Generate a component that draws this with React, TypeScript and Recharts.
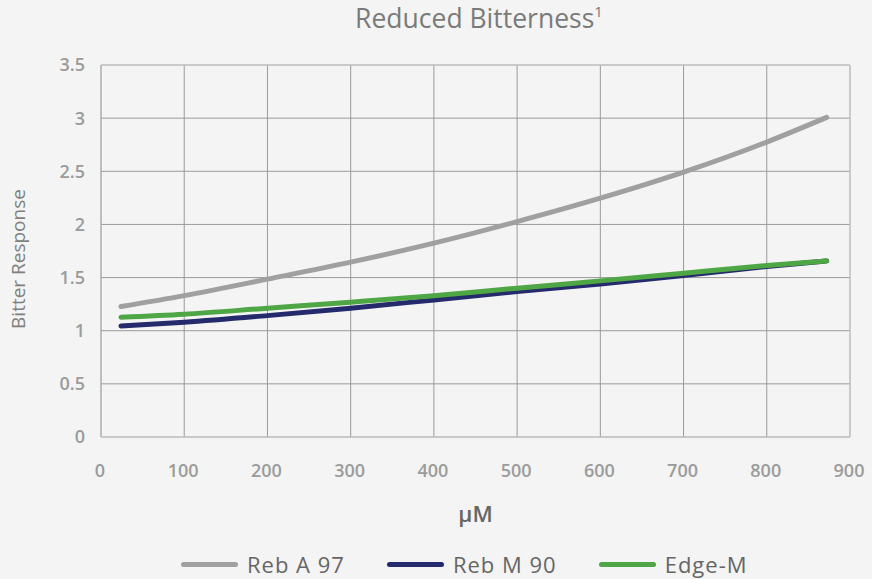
import React from 'react';
import { LineChart, Line, XAxis, YAxis, CartesianGrid, ReferenceLine } from 'recharts';

// concentration (µM) and bitter response
const concentrations = [24, 100, 200, 300, 400, 500, 600, 700, 800, 872];
const rebA97 = [1.227, 1.33, 1.485, 1.645, 1.824, 2.027, 2.247, 2.492, 2.775, 3.007];
const rebM90 = [1.045, 1.08, 1.142, 1.212, 1.29, 1.368, 1.44, 1.519, 1.604, 1.657];
const edgeM = [1.127, 1.155, 1.212, 1.268, 1.328, 1.4, 1.469, 1.541, 1.613, 1.657];

const xTicks = [0, 100, 200, 300, 400, 500, 600, 700, 800, 900];
const yTicks = [0, 0.5, 1, 1.5, 2, 2.5, 3, 3.5];

const series = [
  { key: 'rebA', name: 'Reb A 97', color: '#a0a0a0', values: rebA97 },
  { key: 'rebM', name: 'Reb M 90', color: '#242a6c', values: rebM90 },
  { key: 'edge', name: 'Edge-M', color: '#4fa645', values: edgeM },
];

const data = concentrations.map((x, i) => {
  const row: any = { x };
  series.forEach(s => { row[s.key] = s.values[i]; });
  return row;
});

const FONT = '"Open Sans", sans-serif';
const tickStyle = { fill: '#9b9b9b', fontSize: 18, fontWeight: 600, fontFamily: FONT };

const App: React.FC = () => {
  return (
    <div style={{ position: 'absolute', left: 0, top: 0, width: 872, height: 579, background: '#f3f4f3', fontFamily: FONT }}>
      <div style={{ position: 'absolute', left: 0, top: 0, width: 872, paddingLeft: 86, boxSizing: 'border-box', textAlign: 'center', fontSize: 26.5, color: '#7a7a7a', lineHeight: 'normal' }}>
        Reduced Bitterness<sup style={{ fontSize: 15, lineHeight: 0, position: 'relative', top: -1 }}>1</sup>
      </div>

      <LineChart width={872} height={579} data={data} margin={{ top: 65, right: 22, bottom: 102, left: 0 }}>
        <CartesianGrid stroke="#9a9a9a" strokeWidth={1} />
        <XAxis
          dataKey="x"
          type="number"
          domain={[0, 900]}
          ticks={xTicks}
          height={40}
          tick={{ ...tickStyle, dx: -1 }}
          tickLine={false}
          tickMargin={21}
          axisLine={{ stroke: '#cccccc' }}
          label={({ viewBox }: any) => (
            <text x={viewBox.x + viewBox.width / 2} y={viewBox.y + 85} textAnchor="middle"
              fill="#666666" fontSize={22} fontWeight={600} fontFamily={FONT}>μM</text>
          )}
        />
        <YAxis
          type="number"
          domain={[0, 3.5]}
          ticks={yTicks}
          width={101}
          tick={tickStyle}
          tickLine={false}
          tickMargin={10}
          axisLine={{ stroke: '#b5b5b5' }}
          label={() => (
            <text x={25} y={259} transform="rotate(-90, 25, 259)" textAnchor="middle"
              fill="#808080" fontSize={19} fontFamily={FONT}>Bitter Response</text>
          )}
        />
        <ReferenceLine y={3.5} stroke="#cccccc" />
        <ReferenceLine x={900} stroke="#cccccc" />
        {series.map(s => (
          <Line
            key={s.key}
            type="monotone"
            dataKey={s.key}
            name={s.name}
            stroke={s.color}
            strokeWidth={5}
            strokeLinecap="round"
            dot={false}
            activeDot={false}
            isAnimationActive={false}
          />
        ))}
      </LineChart>

      <div style={{ position: 'absolute', left: 181, top: 549, height: 30, display: 'flex', alignItems: 'center' }}>
        {series.map((s, i) => (
          <div key={s.key} style={{ display: 'flex', alignItems: 'center', marginRight: i < series.length - 1 ? 42 : 0 }}>
            <div style={{ width: 57, height: 5, borderRadius: 3, background: s.color, marginRight: 9 }} />
            <span style={{ fontSize: 22, fontWeight: 500, color: '#666666', letterSpacing: 1 }}>{s.name}</span>
          </div>
        ))}
      </div>
    </div>
  );
};

export default App;
